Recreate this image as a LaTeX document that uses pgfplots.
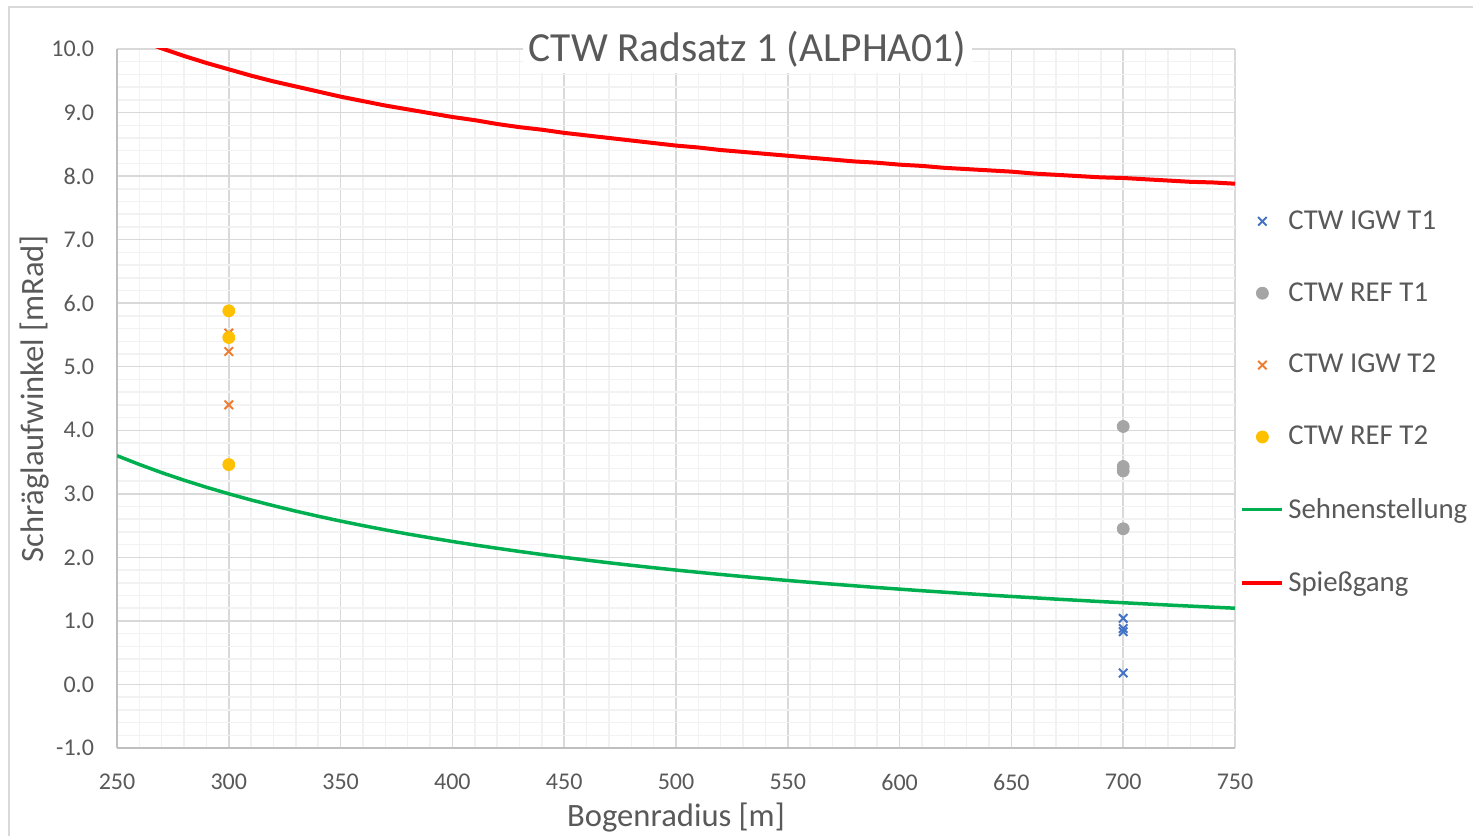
\documentclass[border=0pt]{standalone}
\usepackage{fontspec}
\setmainfont{Carlito}
\usepackage{pgfplots}
\usepackage{pgfplotstable}
\pgfplotsset{compat=1.18}
\definecolor{txt}{HTML}{595959}
\definecolor{majgrid}{HTML}{D9D9D9}
\definecolor{mingrid}{HTML}{F2F2F2}
\definecolor{axln}{HTML}{BFBFBF}
\definecolor{cblue}{HTML}{4472C4}
\definecolor{cgray}{HTML}{A5A5A5}
\definecolor{corange}{HTML}{ED7D31}
\definecolor{cyellow}{HTML}{FFC000}
\definecolor{cgreen}{HTML}{00B050}
\definecolor{cred}{HTML}{FF0000}
\pgfplotsset{
  legmark/.style={legend image code/.code={\draw[##1] plot coordinates {(10pt,0pt)};}},
  legline/.style={legend image code/.code={\draw[##1] (0pt,0pt) -- (20pt,0pt);}},
}

\pgfplotstableread{
R sehne spiess
250 3.600 10.28
260 3.462 10.14
270 3.333 10.01
280 3.214 9.89
290 3.103 9.78
300 3.000 9.68
310 2.903 9.58
320 2.813 9.49
330 2.727 9.41
340 2.647 9.33
350 2.571 9.25
360 2.500 9.18
370 2.432 9.11
380 2.368 9.05
390 2.308 8.99
400 2.250 8.93
410 2.195 8.88
420 2.143 8.82
430 2.093 8.77
440 2.045 8.73
450 2.000 8.68
460 1.957 8.64
470 1.915 8.60
480 1.875 8.56
490 1.837 8.52
500 1.800 8.48
510 1.765 8.45
520 1.731 8.41
530 1.698 8.38
540 1.667 8.35
550 1.636 8.32
560 1.607 8.29
570 1.579 8.26
580 1.552 8.23
590 1.525 8.21
600 1.500 8.18
610 1.475 8.16
620 1.452 8.13
630 1.429 8.11
640 1.406 8.09
650 1.385 8.07
660 1.364 8.04
670 1.343 8.02
680 1.324 8.00
690 1.304 7.98
700 1.286 7.97
710 1.268 7.95
720 1.250 7.93
730 1.233 7.91
740 1.216 7.90
750 1.200 7.88
}\linedata

\begin{document}
\begin{tikzpicture}
\useasboundingbox (0,0) rectangle (736.5pt,418pt);
\begin{axis}[
  at={(58.5pt,44pt)}, anchor=south west,
  scale only axis, width=559pt, height=349.5pt,
  xmin=250, xmax=750, ymin=-1, ymax=10,
  xtick={250,300,...,750},
  ytick={-1,0,...,10},
  minor x tick num=4, minor y tick num=4,
  major tick length=0pt, minor tick length=0pt,
  grid=both,
  major grid style={majgrid, line width=0.75pt},
  minor grid style={mingrid, line width=0.75pt},
  axis x line*=bottom, axis y line*=left,
  axis line style={axln, line width=0.75pt, -},
  /pgf/number format/assume math mode=true,
  yticklabel style={/pgf/number format/.cd, fixed, fixed zerofill, precision=1, /tikz/.cd, font=\fontsize{12}{14}\selectfont, text=txt, xshift=-8pt},
  xticklabel style={/pgf/number format/.cd, fixed, 1000 sep={}, /tikz/.cd, font=\fontsize{12}{14}\selectfont, text=txt, yshift=-9.5pt},
  xlabel={Bogenradius [m]},
  ylabel={Schräglaufwinkel [mRad]},
  xlabel style={at={(axis description cs:0.5,0)}, anchor=center, yshift=-35pt, font=\fontsize{16.3}{19}\selectfont, text=txt},
  ylabel style={at={(axis description cs:0,0.5)}, anchor=center, yshift=41pt, xshift=0pt, font=\fontsize{16.3}{19}\selectfont, text=txt},
  title={CTW Radsatz 1 (ALPHA01)},
  every axis title/.style={at={(axis description cs:0.564,1)}, anchor=center, fill=white, inner sep=3pt, font=\fontsize{20.7}{24}\selectfont, text=txt},
  legend style={draw=none, fill=none, at={(axis description cs:0.9991,0.781)}, anchor=north west,
    font=\fontsize{14.4}{17}\selectfont, text=txt, row sep=21.1pt,
    nodes={inner sep=2pt}},
  legend cell align=left,
]
\addplot[only marks, mark=x, mark size=3pt, cblue, line width=1pt, legmark]
  coordinates {(700,1.04) (700,0.88) (700,0.83) (700,0.18)};
\addlegendentry{CTW IGW T1}
\addplot[only marks, mark=*, mark size=3pt, cgray, mark options={draw=cgray, fill=cgray}, legmark]
  coordinates {(700,4.06) (700,3.43) (700,3.36) (700,2.45)};
\addlegendentry{CTW REF T1}
\addplot[only marks, mark=x, mark size=3pt, corange, line width=1pt, legmark]
  coordinates {(300,5.53) (300,5.24) (300,4.40)};
\addlegendentry{CTW IGW T2}
\addplot[only marks, mark=*, mark size=3pt, cyellow, mark options={draw=cyellow, fill=cyellow}, legmark]
  coordinates {(300,5.88) (300,5.46) (300,3.46)};
\addlegendentry{CTW REF T2}
\addplot[cgreen, line width=1.75pt, no marks, legline]
  table[x=R, y=sehne] {\linedata};
\addlegendentry{Sehnenstellung}
\addplot[cred, line width=2pt, no marks, legline]
  table[x=R, y=spiess] {\linedata};
\addlegendentry{Spießgang}
\end{axis}
\draw[majgrid, line width=0.75pt] (4.5pt,0pt) -- (4.5pt,414.5pt) -- (736.5pt,414.5pt);
\end{tikzpicture}
\end{document}
